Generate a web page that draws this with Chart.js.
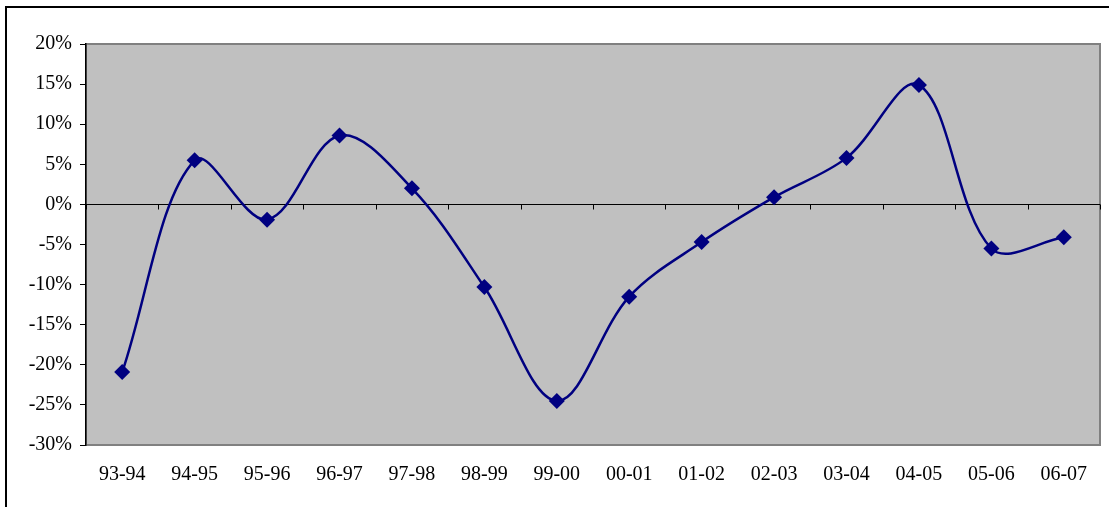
<!DOCTYPE html>
<html>
<head>
<meta charset="utf-8">
<script src="https://cdn.jsdelivr.net/npm/chart.js@4"></script>
<style>
  html, body { margin: 0; padding: 0; background: #fff; }
  #wrap { width: 1109px; height: 507px; }
</style>
</head>
<body>
<div id="wrap"><canvas id="growthChart"></canvas></div>
<script>
const years = ['93-94', '94-95', '95-96', '96-97', '97-98', '98-99', '99-00',
               '00-01', '01-02', '02-03', '03-04', '04-05', '05-06', '06-07'];
const growth = [-20.9, 5.5, -1.9, 8.6, 2.0, -10.3, -24.5,
                -11.5, -4.7, 0.9, 5.8, 14.9, -5.5, -4.1];
const yTicks = [-30, -25, -20, -15, -10, -5, 0, 5, 10, 15, 20];

const serif = 'Liberation Serif, Times New Roman, serif';

// gray plot area, frame, zero line with category tick marks
const excelFrame = {
    id: 'excelFrame',
    beforeDraw(chart) {
        const ctx = chart.ctx;
        const a = chart.chartArea;
        ctx.save();
        ctx.strokeStyle = '#000';
        ctx.lineWidth = 2;
        ctx.strokeRect(6, 7, chart.width + 20, chart.height + 20);
        ctx.fillStyle = '#c0c0c0';
        ctx.fillRect(a.left, a.top, a.right - a.left, a.bottom - a.top);
        ctx.strokeStyle = '#808080';
        ctx.lineWidth = 2;
        ctx.strokeRect(a.left, a.top, a.right - a.left, a.bottom - a.top);
        ctx.restore();
    },
    beforeDatasetsDraw(chart) {
        const ctx = chart.ctx;
        const a = chart.chartArea;
        const x = chart.scales.x;
        const y0 = Math.round(chart.scales.y.getPixelForValue(0)) + 0.5;
        ctx.save();
        ctx.strokeStyle = '#000';
        ctx.lineWidth = 1;
        ctx.beginPath();
        ctx.moveTo(a.left, y0);
        ctx.lineTo(a.right, y0);
        const step = x.getPixelForValue(1) - x.getPixelForValue(0);
        for (let i = 0; i <= years.length; i++) {
            const px = Math.round(x.getPixelForValue(i) - step / 2) + 0.5;
            ctx.moveTo(px, y0);
            ctx.lineTo(px, y0 + 5);
        }
        ctx.stroke();
        ctx.restore();
    }
};

const ctx = document.getElementById('growthChart').getContext('2d');
const growthChart = new Chart(ctx, {
    type: 'line',
    data: {
        labels: years,
        datasets: [{
            label: 'Growth',
            data: growth,
            borderColor: '#000080',
            backgroundColor: '#000080',
            borderWidth: 2.5,
            tension: 0.35,
            pointStyle: 'rectRot',
            pointRadius: 8,
            pointHoverRadius: 8,
            pointBorderWidth: 0
        }]
    },
    options: {
        responsive: true,
        maintainAspectRatio: false,
        animation: false,
        layout: {
            padding: { top: 44, right: 9, bottom: 2, left: 0 }
        },
        plugins: {
            legend: { display: false },
            tooltip: { enabled: false }
        },
        scales: {
            x: {
                offset: true,
                grid: { display: false, drawTicks: false },
                border: { display: false },
                ticks: {
                    color: '#000',
                    padding: 18,
                    maxRotation: 0,
                    font: { family: serif, size: 20 }
                }
            },
            y: {
                min: -30,
                max: 20,
                afterBuildTicks(scale) {
                    scale.ticks = yTicks.map(v => ({ value: v }));
                },
                afterFit(scale) {
                    scale.width = 86;
                },
                grid: {
                    drawOnChartArea: false,
                    tickLength: 6,
                    color: '#000'
                },
                border: { color: '#000', width: 1.5 },
                ticks: {
                    color: '#000',
                    padding: 8,
                    font: { family: serif, size: 20 },
                    callback: v => v + '%'
                }
            }
        }
    },
    plugins: [excelFrame]
});
</script>
</body>
</html>
